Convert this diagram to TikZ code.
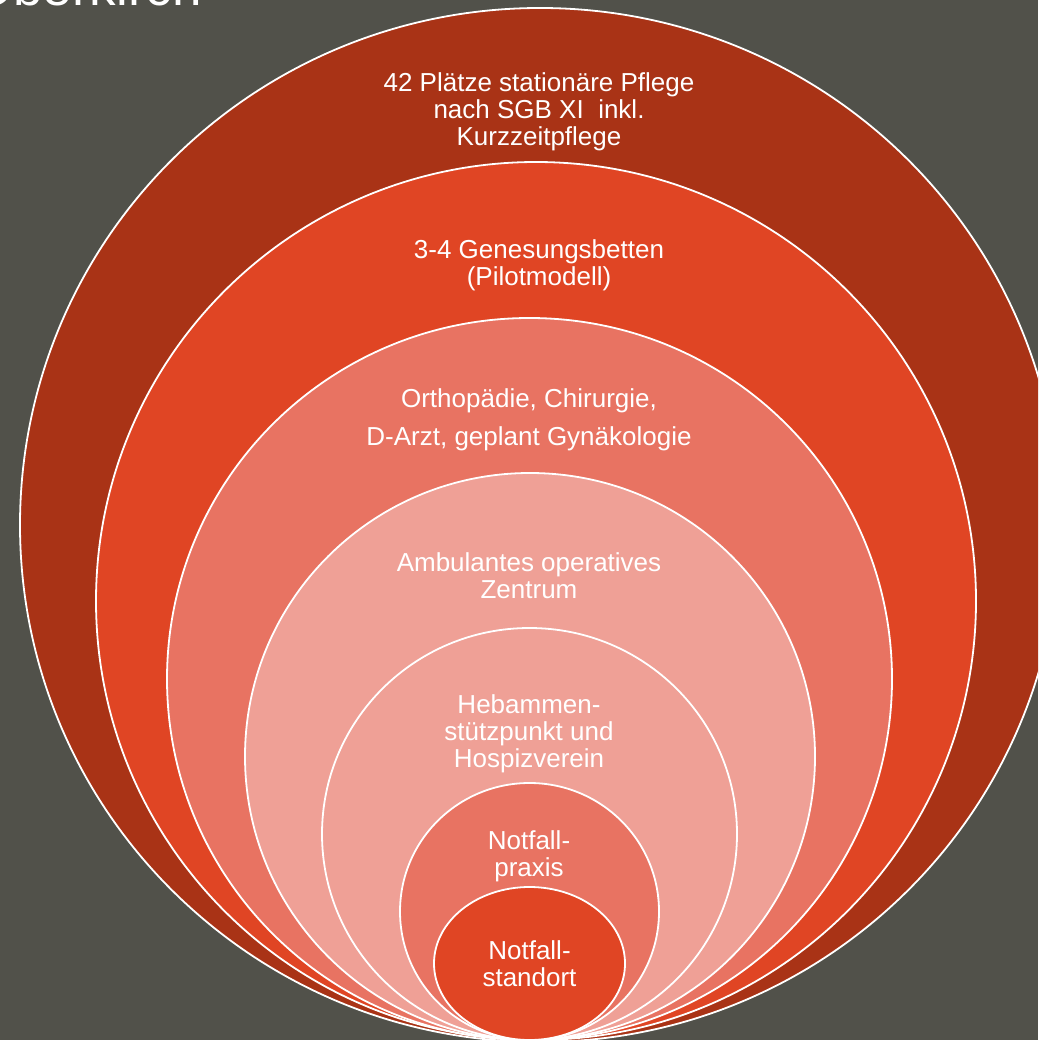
\documentclass[tikz,border=0pt]{standalone}
\usepackage{fontspec}
\setmainfont{Liberation Sans}
\definecolor{bgc}{HTML}{51514A}
\definecolor{darkred}{HTML}{A93316}
\definecolor{orangered}{HTML}{E04524}
\definecolor{salmon}{HTML}{E87362}
\definecolor{pinkish}{HTML}{EFA096}
\begin{document}
\begin{tikzpicture}[x=1pt,y=-1pt,
  ring/.style={draw=white,line width=1.8pt},
  lbl/.style={text=white,align=center,inner sep=0pt,font=\fontsize{26}{27}\selectfont},
  lblwide/.style={lbl,font=\fontsize{26}{38}\selectfont}]
\useasboundingbox (0,0) rectangle (1038,1040);
\fill[bgc] (0,0) rectangle (1038,1040);
\clip (0,0) rectangle (1038,1040);
\node[anchor=base east,text=white,inner sep=0pt,font=\fontsize{53}{60}\selectfont] (title) at (202,6) {Oberkirch};
\draw[ring,fill=darkred]   (540,525)   ellipse [x radius=520pt, y radius=517pt];
\draw[ring,fill=orangered] (536,601)   ellipse [x radius=440pt, y radius=439pt];
\draw[ring,fill=salmon]    (529.5,679) ellipse [x radius=362.5pt, y radius=361pt];
\draw[ring,fill=pinkish]   (530,756.5) ellipse [x radius=285pt, y radius=283.5pt];
\draw[ring,fill=pinkish]   (529.5,834) ellipse [x radius=207.5pt, y radius=206pt];
\draw[ring,fill=salmon]    (529.5,911.5) ellipse [x radius=129.5pt, y radius=128.5pt];
\draw[ring,fill=orangered] (529.5,963.5) ellipse [x radius=95.5pt, y radius=76.5pt];
\node[lbl] (t1) at (539,113.5) {\strut 42 Plätze stationäre Pflege\\nach SGB XI\ \ inkl.\\Kurzzeitpflege\strut};
\node[lbl] (t2) at (539,267) {\strut 3-4 Genesungsbetten\\(Pilotmodell)\strut};
\node[lblwide] (t3) at (529,418.4) {\strut Orthopädie, Chirurgie,\\D-Arzt, geplant Gynäkologie\strut};
\node[lbl] (t4) at (529,579.5) {\strut Ambulantes operatives\\Zentrum\strut};
\node[lbl] (t5) at (529,735.5) {\strut Hebammen-\\stützpunkt und\\Hospizverein\strut};
\node[lbl] (t6) at (529,857.5) {\strut Notfall-\\praxis\strut};
\node[lbl] (t7) at (529.5,968) {\strut Notfall-\\standort\strut};
\end{tikzpicture}
\end{document}
